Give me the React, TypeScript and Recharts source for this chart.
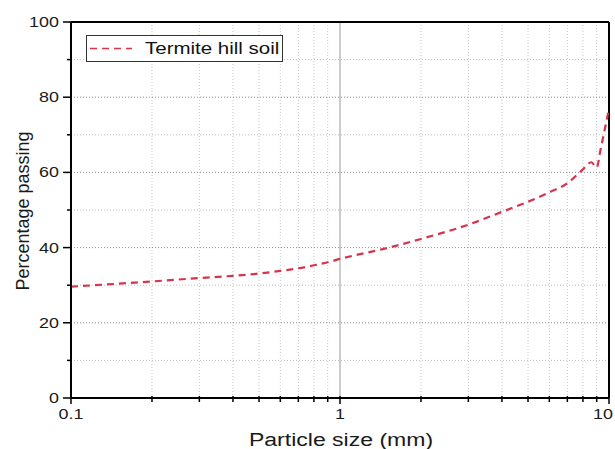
import React from 'react';
import { LineChart, Line, XAxis, YAxis, ReferenceLine } from 'recharts';

// particle size (mm) vs percentage passing
const sizes = [0.1, 0.15, 0.2, 0.3, 0.4, 0.5, 0.6, 0.7, 0.8, 0.9, 1, 1.5, 2, 3, 4, 5, 6, 7, 8, 8.6, 9, 9.3, 10];
const passing = [29.6, 30.4, 31.0, 31.9, 32.5, 33.1, 33.8, 34.5, 35.3, 36.1, 37.0, 39.9, 42.3, 46.1, 49.5, 52.2, 54.7, 57.1, 60.8, 62.7, 61.3, 66.0, 77.0];

const xTicks = [0.1, 0.2, 0.3, 0.4, 0.5, 0.6, 0.7, 0.8, 0.9, 1, 2, 3, 4, 5, 6, 7, 8, 9, 10];
const xLabelled = [0.1, 1, 10];
const yTicks = [0, 10, 20, 30, 40, 50, 60, 70, 80, 90, 100];
const yLabelled = [0, 20, 40, 60, 80, 100];

const data = sizes.map((s, i) => ({ size: s, pct: passing[i] }));

const FONT = '"Liberation Sans", Arial, sans-serif';
const RED = '#d8334c';
// the source picture is stretched sideways, so text is widened to match
const SX = 1.28;

const Wide = ({ x, y, anchor, size, children }: any) => (
  <g transform={`translate(${x},${y}) scale(${SX},1)`}>
    <text x={0} y={0} textAnchor={anchor} fontSize={size} fontFamily={FONT} fill="#1a1a1a">
      {children}
    </text>
  </g>
);

const XTick = (props: any) => {
  const { x, y, payload } = props;
  const major = xLabelled.includes(payload.value);
  return (
    <g>
      <line x1={x} x2={x} y1={y - 2} y2={y + (major ? 6 : 4)} stroke="#000" strokeWidth={1.5} />
      {major && (
        <Wide x={Math.min(x, 603)} y={y + 21} anchor="middle" size={14}>
          {payload.value}
        </Wide>
      )}
    </g>
  );
};

const YTick = (props: any) => {
  const { x, y, payload } = props;
  const major = yLabelled.includes(payload.value);
  return (
    <g>
      <line x1={x - (major ? 8 : 4)} x2={x} y1={y} y2={y} stroke="#000" strokeWidth={1.5} />
      {major && (
        <Wide x={x - 12} y={y + 5} anchor="end" size={14}>
          {payload.value}
        </Wide>
      )}
    </g>
  );
};

export default function App() {
  return (
    <div style={{ position: 'absolute', left: 0, top: 0, width: 615, height: 449, background: '#fff' }}>
      <LineChart width={615} height={449} data={data} margin={{ top: 22, right: 6, bottom: 11, left: 0 }}>
        <XAxis
          dataKey="size"
          type="number"
          scale="log"
          domain={[0.1, 10]}
          ticks={xTicks}
          tick={<XTick />}
          tickSize={0}
          tickMargin={0}
          tickLine={false}
          interval={0}
          height={40}
          allowDataOverflow
          axisLine={{ stroke: '#000', strokeWidth: 2 }}
          label={{
            content: () => (
              <Wide x={341} y={446} anchor="middle" size={18}>
                Particle size (mm)
              </Wide>
            ),
          }}
        />
        <YAxis
          type="number"
          domain={[0, 100]}
          ticks={yTicks}
          tick={<YTick />}
          tickSize={0}
          tickMargin={0}
          tickLine={false}
          interval={0}
          width={71}
          axisLine={{ stroke: '#000', strokeWidth: 2 }}
          label={{
            content: () => (
              <text
                x={29}
                y={211}
                transform="rotate(-90 29 211)"
                textAnchor="middle"
                fontSize={18}
                fontFamily={FONT}
                fill="#1a1a1a"
              >
                Percentage passing
              </text>
            ),
          }}
        />
        {xTicks
          .filter((v) => v !== 0.1 && v !== 10)
          .map((v) => (
            <ReferenceLine
              key={'vx' + v}
              x={v}
              stroke={v === 1 ? '#999' : '#c8c8c8'}
              strokeWidth={1}
              strokeDasharray={v === 1 ? undefined : '1 2'}
            />
          ))}
        {yTicks
          .filter((v) => v !== 0 && v !== 100)
          .map((v) => (
            <ReferenceLine
              key={'hy' + v}
              y={v}
              stroke={v % 20 === 0 ? '#8c8c8c' : '#bdbdbd'}
              strokeWidth={1}
              strokeDasharray="1 2"
            />
          ))}
        <ReferenceLine y={100} stroke="#000" strokeWidth={2} />
        <ReferenceLine x={10} stroke="#000" strokeWidth={2} />
        <Line
          type="monotone"
          dataKey="pct"
          stroke={RED}
          strokeWidth={2.2}
          strokeDasharray="7 5"
          dot={false}
          isAnimationActive={false}
        />
      </LineChart>
      <div
        style={{
          position: 'absolute',
          left: 86,
          top: 35,
          width: 195,
          height: 25,
          border: '1px solid #333',
          background: '#fff',
          display: 'flex',
          alignItems: 'center',
          fontFamily: FONT,
          fontSize: 16,
          color: '#111',
          overflow: 'hidden',
        }}
      >
        <svg width={58} height={25} style={{ flex: 'none' }}>
          <line x1={3} x2={45} y1={12.5} y2={12.5} stroke={RED} strokeWidth={1.5} strokeDasharray="7 5" />
        </svg>
        <span style={{ display: 'inline-block', transform: `scaleX(${SX})`, transformOrigin: 'left center', whiteSpace: 'nowrap' }}>
          Termite hill soil
        </span>
      </div>
    </div>
  );
}
